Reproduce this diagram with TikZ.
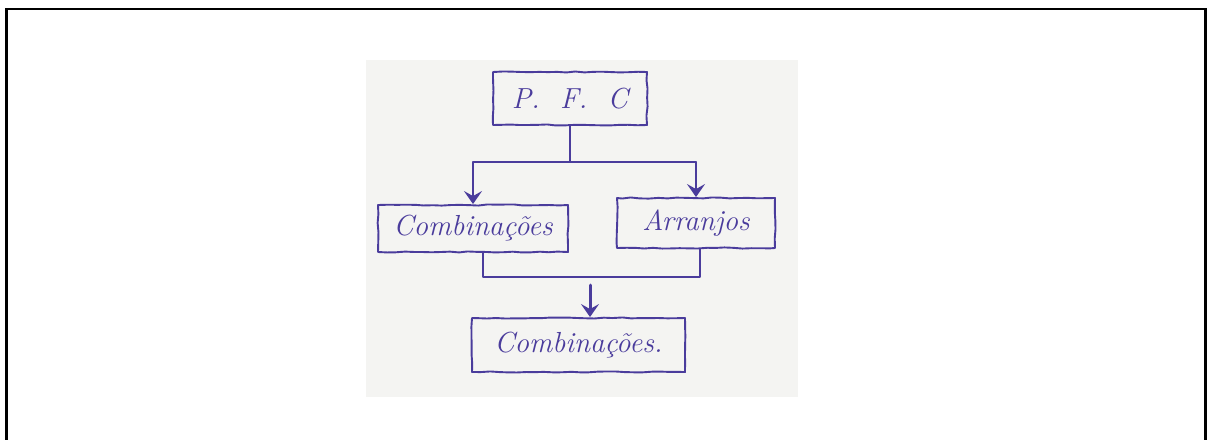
\documentclass[tikz,border=0pt]{standalone}
\usetikzlibrary{arrows.meta,decorations.pathmorphing,calc}

\definecolor{ink}{HTML}{4A3C9C}
\definecolor{paper}{HTML}{F4F4F2}

\tikzset{
  inkline/.style={draw=ink, line width=1.9pt, line cap=round, line join=round},
  box/.style={inkline, rectangle, inner sep=0pt,
    decorate, decoration={random steps, segment length=9pt, amplitude=0.6pt}},
  hand/.style={text=ink, font=\fontsize{29}{32}\selectfont\itshape},
  tip/.style={-{Stealth[length=13pt,width=18pt,inset=5pt]}},
}

\begin{document}
\begin{tikzpicture}[x=1pt,y=1pt]
  \useasboundingbox (0,0) rectangle (1207,-439);
  \begin{scope}
    \clip (0,0) rectangle (1207,-439);
    % outer frame, its lower edge runs off the page
    \draw[black, line width=2.5pt] (6.5,-9) rectangle (1205.5,-460);
  \end{scope}

  % sheet of paper
  \fill[paper] (366,-60) rectangle (798,-397);

  % boxes
  \node[box, hand, minimum width=154pt, minimum height=53pt] (pfc)   at (570,-98.5) {P.\ \ F.\ \ C};
  \node[box, hand, minimum width=190pt, minimum height=47pt] (comb)  at (473,-228.5) {Combinações};
  \node[box, hand, minimum width=158pt, minimum height=50pt] (arr)   at (696,-223) {Arranjos};
  \node[box, hand, minimum width=213pt, minimum height=54pt] (comb2) at (578.5,-345) {Combinações.};

  % branching from the top box
  \coordinate (split) at (pfc.south |- 0,-162);
  \coordinate (jl) at (comb.north |- split);
  \coordinate (jr) at (arr.north |- split);
  \draw[inkline] (pfc.south) -- (split);
  \draw[inkline] (jl) -- (jr);
  \draw[inkline, tip] (jl) -- (comb.north);
  \draw[inkline, tip] (jr) -- (arr.north);

  % joining the two middle boxes
  \coordinate (ml) at ($(comb.south)+(10,0)$);
  \coordinate (mr) at ($(arr.south)+(4,0)$);
  \coordinate (mlb) at (ml |- 0,-277);
  \coordinate (mrb) at (mr |- 0,-277);
  \draw[inkline] (ml) -- (mlb) -- (mrb) -- (mr);

  % final arrow, drawn with a heavier stroke
  \coordinate (down) at (590,-285);
  \draw[inkline, line width=3pt, tip] (down) -- (comb2.north -| down);
\end{tikzpicture}
\end{document}
